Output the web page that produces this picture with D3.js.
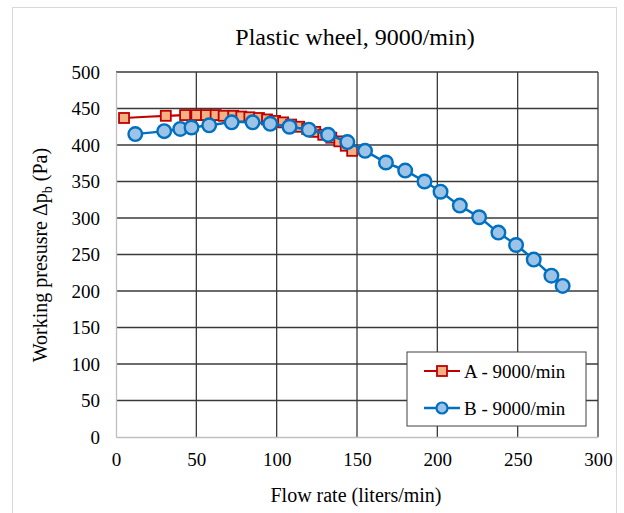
<!DOCTYPE html>
<html>
<head>
<meta charset="utf-8">
<script src="https://cdnjs.cloudflare.com/ajax/libs/d3/7.8.5/d3.min.js"></script>
<style>
  body { margin: 0; background: #fff; }
  text { font-family: "Liberation Serif", "Times New Roman", serif; fill: #000; }
</style>
</head>
<body>
<div class="canva"></div>
<script>
// series A (squares) - flow rate / pressure
var flowA = [5, 31, 43, 50, 56, 62, 67, 73, 78, 83, 89, 94, 99, 104, 109, 114, 119, 124, 129, 134, 139, 143, 147];
var presA = [437, 440, 441, 441, 441, 441, 440, 440, 439, 438, 437, 435, 433, 431, 428, 425, 422, 418, 414, 410, 405, 399, 392];

// series B (circles)
var flowB = [12, 30, 40, 47, 58, 72, 85, 96, 108, 120, 132, 144, 155, 168, 180, 192, 202, 214, 226, 238, 249, 260, 271, 278];
var presB = [415, 419, 422, 424, 427, 431, 431, 429, 425, 421, 414, 404, 392, 376, 365, 350, 336, 317, 301, 280, 263, 243, 221, 207];

var seriesNames = ["A - 9000/min", "B - 9000/min"];
var xTicks = [0, 50, 100, 150, 200, 250, 300];
var yTicks = [0, 50, 100, 150, 200, 250, 300, 350, 400, 450, 500];

const svg = d3.select(".canva").append("svg")
    .attr("width", 624)
    .attr("height", 513);

// outer chart border
svg.append("rect")
    .attr("x", 12.5).attr("y", 7.5)
    .attr("width", 604).attr("height", 510)
    .attr("fill", "#fff")
    .attr("stroke", "#d9d9d9");

const margin = {top: 72, left: 116};
const graphWidth = 598 - 116;
const graphHeight = 437 - 72;

const g = svg.append("g")
    .attr("transform", `translate(${margin.left}, ${margin.top})`);

var x = d3.scaleLinear().domain([0, 300]).range([0, graphWidth]);
var y = d3.scaleLinear().domain([0, 500]).range([graphHeight, 0]);

// grid lines (dark)
g.selectAll(".hgrid")
    .data(yTicks.filter(d => d > 0))
    .enter().append("line")
    .attr("x1", 0).attr("x2", graphWidth)
    .attr("y1", d => y(d)).attr("y2", d => y(d))
    .attr("stroke", "#3a3a3a").attr("stroke-width", 1.3);

g.selectAll(".vgrid")
    .data(xTicks.filter(d => d > 0))
    .enter().append("line")
    .attr("x1", d => x(d)).attr("x2", d => x(d))
    .attr("y1", 0).attr("y2", graphHeight)
    .attr("stroke", "#3a3a3a").attr("stroke-width", 1.3);

// axis lines, light grey
var xAxis = d3.axisBottom(x).tickValues(xTicks).tickSize(0).tickPadding(16);
var yAxis = d3.axisLeft(y).tickValues(yTicks).tickSize(0).tickPadding(16);

const xg = g.append("g")
    .attr("transform", `translate(0, ${graphHeight})`)
    .call(xAxis);
const yg = g.append("g").call(yAxis);

[xg, yg].forEach(a => {
    a.select(".domain").attr("stroke", "#bfbfbf").attr("stroke-width", 1.3);
    a.selectAll("text")
        .style("font-family", "Liberation Serif")
        .style("font-size", "19px")
        .attr("fill", "#000");
});

// lines
var lineA = d3.line()
    .x((d, i) => x(flowA[i]))
    .y(d => y(d))
    .curve(d3.curveCatmullRom.alpha(0.5));
var lineB = d3.line()
    .x((d, i) => x(flowB[i]))
    .y(d => y(d))
    .curve(d3.curveCatmullRom.alpha(0.5));

g.append("path")
    .attr("d", lineA(presA))
    .attr("fill", "none")
    .attr("stroke", "#c00000")
    .attr("stroke-width", 2.2);

g.selectAll(".sqA")
    .data(presA)
    .enter().append("rect")
    .attr("x", (d, i) => x(flowA[i]) - 5)
    .attr("y", d => y(d) - 5)
    .attr("width", 10).attr("height", 10)
    .attr("fill", "#f4b183")
    .attr("stroke", "#c00000")
    .attr("stroke-width", 1.8);

g.append("path")
    .attr("d", lineB(presB))
    .attr("fill", "none")
    .attr("stroke", "#0070c0")
    .attr("stroke-width", 2.5);

g.selectAll(".cB")
    .data(presB)
    .enter().append("circle")
    .attr("cx", (d, i) => x(flowB[i]))
    .attr("cy", d => y(d))
    .attr("r", 6.8)
    .attr("fill", "#9dc3e6")
    .attr("stroke", "#0070c0")
    .attr("stroke-width", 2.4);

// title + axis titles
svg.append("text")
    .attr("x", 355).attr("y", 45)
    .attr("text-anchor", "middle")
    .style("font-size", "24px")
    .text("Plastic wheel, 9000/min)");

svg.append("text")
    .attr("x", 356).attr("y", 502)
    .attr("text-anchor", "middle")
    .style("font-size", "20px")
    .text("Flow rate (liters/min)");

const yt = svg.append("text")
    .attr("transform", "translate(47, 255) rotate(-90)")
    .attr("text-anchor", "middle")
    .style("font-size", "20px");
yt.append("tspan").text("Working presusre Δp");
yt.append("tspan").attr("dy", 5).style("font-size", "14px").text("b");
yt.append("tspan").attr("dy", -5).text(" (Pa)");

// legend
const legend = svg.append("g").attr("transform", "translate(407, 352)");
legend.append("rect")
    .attr("width", 179).attr("height", 74)
    .attr("fill", "#fff")
    .attr("stroke", "#404040").attr("stroke-width", 1);

const legA = legend.append("g").attr("transform", "translate(0, 19)");
legA.append("line").attr("x1", 17).attr("x2", 53)
    .attr("stroke", "#c00000").attr("stroke-width", 2.2);
legA.append("rect").attr("x", 30).attr("y", -5).attr("width", 10).attr("height", 10)
    .attr("fill", "#f4b183").attr("stroke", "#c00000").attr("stroke-width", 1.8);
legA.append("text").attr("x", 57).attr("y", 6.5)
    .style("font-size", "19px").text(seriesNames[0]);

const legB = legend.append("g").attr("transform", "translate(0, 56)");
legB.append("line").attr("x1", 17).attr("x2", 53)
    .attr("stroke", "#0070c0").attr("stroke-width", 2.5);
legB.append("circle").attr("cx", 35).attr("r", 5.5)
    .attr("fill", "#9dc3e6").attr("stroke", "#0070c0").attr("stroke-width", 2.2);
legB.append("text").attr("x", 57).attr("y", 6.5)
    .style("font-size", "19px").text(seriesNames[1]);
</script>
</body>
</html>
